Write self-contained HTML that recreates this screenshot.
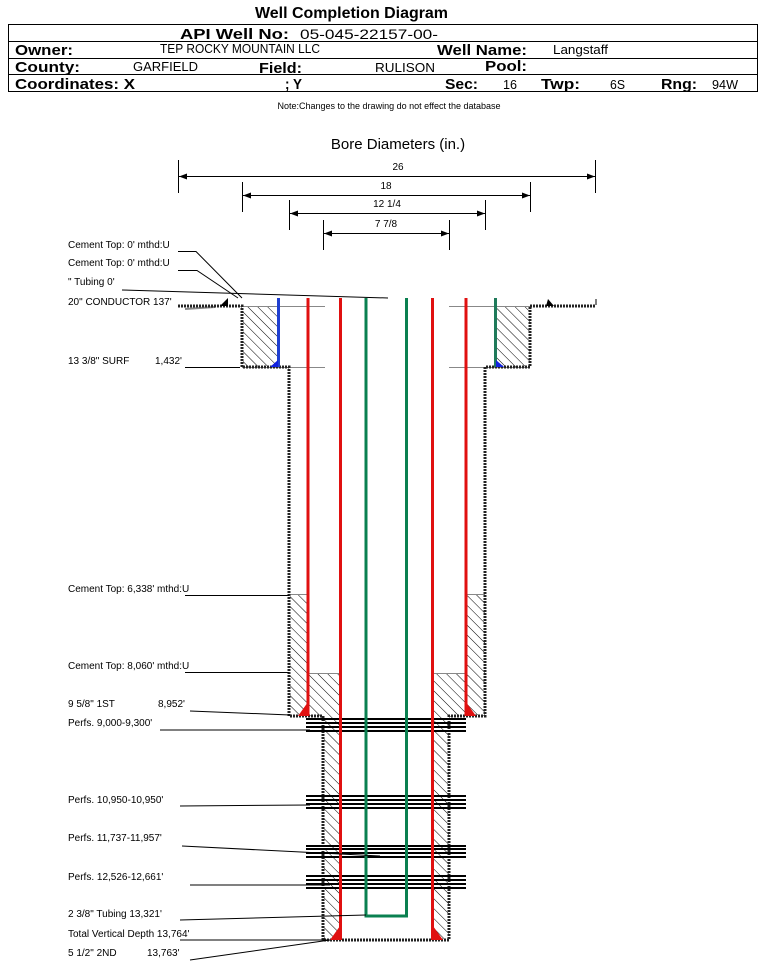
<!DOCTYPE html>
<html><head><meta charset="utf-8"><style>
html,body{margin:0;padding:0;background:#fff}
svg{display:block;font-family:"Liberation Sans",sans-serif}
</style></head><body>
<svg width="759" height="962" viewBox="0 0 759 962" xmlns="http://www.w3.org/2000/svg">
<defs>
<pattern id="h" patternUnits="userSpaceOnUse" width="7" height="7" patternTransform="rotate(-45)">
<line x1="0" y1="0" x2="0" y2="7" stroke="#000" stroke-width="1"/>
</pattern>
</defs>
<text x="255" y="18" font-size="16" font-weight="bold" textLength="193" lengthAdjust="spacingAndGlyphs">Well Completion Diagram</text>
<rect x="8.5" y="24.5" width="749" height="67" fill="none" stroke="#000"/>
<line x1="8" y1="41.5" x2="758" y2="41.5" stroke="#000"/>
<line x1="8" y1="58.5" x2="758" y2="58.5" stroke="#000"/>
<line x1="8" y1="74.5" x2="758" y2="74.5" stroke="#000"/>
<g font-size="15" font-weight="bold">
<text x="180" y="39" textLength="109" lengthAdjust="spacingAndGlyphs">API Well No:</text>
<text x="15" y="55" textLength="58" lengthAdjust="spacingAndGlyphs">Owner:</text>
<text x="437" y="55" textLength="90" lengthAdjust="spacingAndGlyphs">Well Name:</text>
<text x="15" y="72" textLength="65" lengthAdjust="spacingAndGlyphs">County:</text>
<text x="259" y="73" textLength="43" lengthAdjust="spacingAndGlyphs">Field:</text>
<text x="485" y="71" textLength="42" lengthAdjust="spacingAndGlyphs">Pool:</text>
<text x="15" y="89" textLength="120" lengthAdjust="spacingAndGlyphs">Coordinates: X</text>
<text x="285" y="89" textLength="17" lengthAdjust="spacingAndGlyphs">; Y</text>
<text x="445" y="89" textLength="33" lengthAdjust="spacingAndGlyphs">Sec:</text>
<text x="541" y="89" textLength="39" lengthAdjust="spacingAndGlyphs">Twp:</text>
<text x="661" y="89" textLength="36" lengthAdjust="spacingAndGlyphs">Rng:</text>
</g>
<g font-size="13">
<text x="300" y="39" font-size="14" textLength="138" lengthAdjust="spacingAndGlyphs">05-045-22157-00-</text>
<text x="160" y="53" textLength="160" lengthAdjust="spacingAndGlyphs">TEP ROCKY MOUNTAIN LLC</text>
<text x="553" y="54" textLength="55" lengthAdjust="spacingAndGlyphs">Langstaff</text>
<text x="133" y="71" textLength="65" lengthAdjust="spacingAndGlyphs">GARFIELD</text>
<text x="375" y="72" textLength="60" lengthAdjust="spacingAndGlyphs">RULISON</text>
<text x="503" y="89" textLength="14" lengthAdjust="spacingAndGlyphs">16</text>
<text x="610" y="89" textLength="15" lengthAdjust="spacingAndGlyphs">6S</text>
<text x="712" y="89" textLength="26" lengthAdjust="spacingAndGlyphs">94W</text>
</g>
<text x="389" y="109" font-size="9" text-anchor="middle">Note:Changes to the drawing do not effect the database</text>
<text x="398" y="149" font-size="15" text-anchor="middle">Bore Diameters (in.)</text>
<g stroke="#000" stroke-width="1" fill="none">
<line x1="178.5" y1="160" x2="178.5" y2="193"/><line x1="595.5" y1="160" x2="595.5" y2="193"/>
<line x1="179" y1="176.5" x2="595" y2="176.5"/>
<line x1="242.5" y1="182" x2="242.5" y2="212"/><line x1="530.5" y1="182" x2="530.5" y2="212"/>
<line x1="243" y1="195.5" x2="530" y2="195.5"/>
<line x1="289.5" y1="200" x2="289.5" y2="230"/><line x1="485.5" y1="200" x2="485.5" y2="230"/>
<line x1="290" y1="213.5" x2="485" y2="213.5"/>
<line x1="323.5" y1="220" x2="323.5" y2="250"/><line x1="449.5" y1="220" x2="449.5" y2="250"/>
<line x1="324" y1="233.5" x2="449" y2="233.5"/>
</g>
<g fill="#000">
<path d="M179 176.5l8-3v6z"/><path d="M595 176.5l-8-3v6z"/>
<path d="M243 195.5l8-3v6z"/><path d="M530 195.5l-8-3v6z"/>
<path d="M290 213.5l8-3v6z"/><path d="M485 213.5l-8-3v6z"/>
<path d="M324 233.5l8-3v6z"/><path d="M449 233.5l-8-3v6z"/>
</g>
<g font-size="10" text-anchor="middle">
<text x="398" y="170">26</text><text x="386" y="189">18</text><text x="387" y="207">12 1/4</text><text x="386" y="227">7 7/8</text>
</g>
<g fill="url(#h)">
<rect x="243" y="307" width="35" height="60"/><rect x="496" y="307" width="34" height="60"/>
<rect x="290" y="595" width="18" height="120"/><rect x="466" y="595" width="19" height="120"/>
<rect x="309" y="673" width="31" height="43"/><rect x="433" y="673" width="32" height="43"/>
<rect x="324" y="716" width="16" height="223"/><rect x="433" y="716" width="16" height="223"/>
</g>
<g stroke="#888" stroke-width="1">
<line x1="290" y1="594.5" x2="308" y2="594.5"/><line x1="466" y1="594.5" x2="485" y2="594.5"/>
<line x1="309" y1="673.5" x2="340" y2="673.5"/><line x1="433" y1="673.5" x2="465" y2="673.5"/>
<line x1="242" y1="306.5" x2="325" y2="306.5"/><line x1="449" y1="306.5" x2="530" y2="306.5"/>
<line x1="242" y1="367.5" x2="325" y2="367.5"/><line x1="449" y1="367.5" x2="530" y2="367.5"/>
<line x1="185" y1="309" x2="215" y2="307" stroke-width="2"/>
</g>
<g fill="none" stroke="#222" stroke-width="3" stroke-dasharray="2,1">
<path d="M178 306H242V367H289V716H323V940H449V716H485V367H530V306H596"/>
</g>
<g stroke="#000" stroke-width="2">
<line x1="306" y1="719" x2="466" y2="719"/><line x1="306" y1="723" x2="466" y2="723"/><line x1="306" y1="727" x2="466" y2="727"/><line x1="306" y1="731" x2="466" y2="731"/>
<line x1="306" y1="796" x2="466" y2="796"/><line x1="306" y1="800" x2="466" y2="800"/><line x1="306" y1="804" x2="466" y2="804"/><line x1="306" y1="808" x2="466" y2="808"/>
<line x1="306" y1="846" x2="466" y2="846"/><line x1="306" y1="849" x2="466" y2="849"/><line x1="306" y1="853" x2="466" y2="853"/><line x1="306" y1="857" x2="466" y2="857"/>
<line x1="306" y1="876" x2="466" y2="876"/><line x1="306" y1="880" x2="466" y2="880"/><line x1="306" y1="884" x2="466" y2="884"/><line x1="306" y1="888" x2="466" y2="888"/>
</g>
<g stroke-width="3">
<line x1="278.5" y1="298" x2="278.5" y2="367" stroke="#1f3fd0"/>
<line x1="495.5" y1="298" x2="495.5" y2="367" stroke="#1f7a5a"/>
<line x1="308" y1="298" x2="308" y2="716" stroke="#e01010"/>
<line x1="466" y1="298" x2="466" y2="716" stroke="#e01010"/>
<line x1="340.5" y1="298" x2="340.5" y2="940" stroke="#e01010"/>
<line x1="432.5" y1="298" x2="432.5" y2="940" stroke="#e01010"/>
<path d="M366 298V916H406.5V298" fill="none" stroke="#0a8050"/>
</g>
<g>
<path d="M278 360v7h-8z" fill="#1020e0"/><path d="M496 360v7h8z" fill="#1020e0"/>
<path d="M308 702v14h-10z" fill="#e01010"/><path d="M466 702v14h10z" fill="#e01010"/>
<path d="M340 926v14h-10z" fill="#e01010"/><path d="M433 926v14h10z" fill="#e01010"/>
<path d="M220 306l8-8v8z" fill="#000"/><path d="M546 306l8 0-6-7z" fill="#000"/>
<path d="M596 299v6" stroke="#000"/>
</g>
<g stroke="#000" stroke-width="1" fill="none">
<path d="M178 251.5H196L242 298"/>
<path d="M178 270.5H197L238 298"/>
<path d="M122 290L388 298"/>
<path d="M185 367.5H240"/>
<path d="M185 595.5H289"/>
<path d="M185 672.5H289"/>
<path d="M190 711L290 715"/>
<path d="M160 730H310"/>
<path d="M180 806L310 805"/>
<path d="M182 846L380 856"/>
<path d="M190 885H330"/>
<path d="M180 920L366 915"/>
<path d="M180 940H330"/>
<path d="M190 960L330 940"/>
</g>
<g font-size="10">
<text x="68" y="248">Cement Top: 0' mthd:U</text>
<text x="68" y="266">Cement Top: 0' mthd:U</text>
<text x="68" y="285">" Tubing 0'</text>
<text x="68" y="305">20" CONDUCTOR  137'</text>
<text x="68" y="364">13 3/8" SURF</text><text x="155" y="364">1,432'</text>
<text x="68" y="592">Cement Top: 6,338' mthd:U</text>
<text x="68" y="669">Cement Top: 8,060' mthd:U</text>
<text x="68" y="707">9 5/8" 1ST</text><text x="158" y="707">8,952'</text>
<text x="68" y="726">Perfs. 9,000-9,300'</text>
<text x="68" y="803">Perfs. 10,950-10,950'</text>
<text x="68" y="841">Perfs. 11,737-11,957'</text>
<text x="68" y="880">Perfs. 12,526-12,661'</text>
<text x="68" y="917">2 3/8" Tubing 13,321'</text>
<text x="68" y="937">Total Vertical Depth 13,764'</text>
<text x="68" y="956">5 1/2" 2ND</text><text x="147" y="956">13,763'</text>
</g>
</svg>
</body></html>
